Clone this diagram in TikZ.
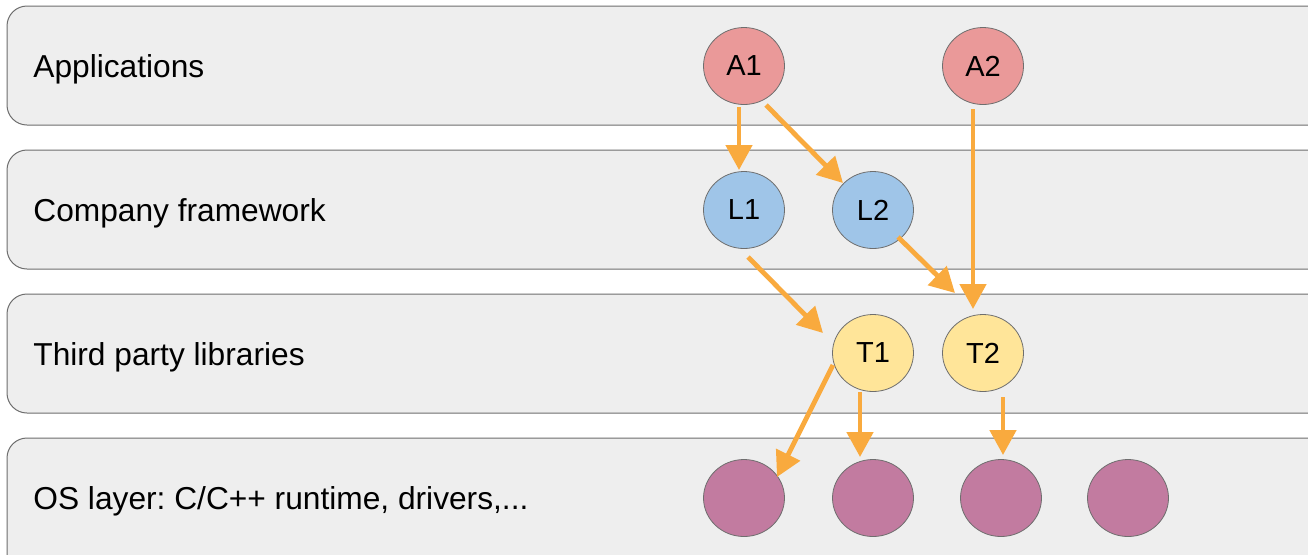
\documentclass[tikz,border=0pt]{standalone}
\usepackage{fontspec}
\setmainfont{Liberation Sans}
\usetikzlibrary{shapes.geometric,arrows.meta,calc}
\frenchspacing
\definecolor{boxfill}{HTML}{EEEEEE}
\definecolor{boxline}{HTML}{6E6E6E}
\definecolor{appc}{HTML}{EA9999}
\definecolor{libc}{HTML}{9FC5E8}
\definecolor{thirdc}{HTML}{FFE599}
\definecolor{osc}{HTML}{C27BA0}
\definecolor{arrc}{HTML}{F9AA3E}
\tikzset{
  layer/.style={draw=boxline, fill=boxfill, line width=0.5pt, rounded corners=10pt},
  layertext/.style={anchor=base west, inner sep=0pt, font=\fontsize{15.85}{19}\selectfont},
  comp/.style={ellipse, draw=boxline, line width=0.4pt, minimum width=40.5pt, minimum height=38.5pt, inner sep=0pt, font=\fontsize{14.5}{17}\selectfont},
  arr/.style={draw=arrc, line width=2.4pt, -{Triangle[width=13pt,length=12.5pt]}}
}
\begin{document}
\begin{tikzpicture}[x=0.5pt,y=-0.5pt]
\useasboundingbox (0,0) rectangle (1308,554);
\clip (0,0) rectangle (1308,554);
\fill[white] (0,0) rectangle (1308,554);
% layers
\draw[layer] (7,6) rectangle (1340,125);
\draw[layer] (7,150) rectangle (1340,269);
\draw[layer] (7,294) rectangle (1340,413);
\draw[layer] (7,438) rectangle (1340,580);
\node[layertext] (t1) at (33,77) {Applications};
\node[layertext] (t2) at (33,221) {Company framework};
\node[layertext] (t3) at (33,365) {Third party libraries};
\node[layertext] (t4) at (33,509) {OS layer: C/C++ runtime, drivers,...};
% components
\node[comp, fill=appc] (A1) at (744,66) {A1};
\node[comp, fill=appc] (A2) at (983,66) {A2};
\node[comp, fill=libc] (L1) at (744,210) {L1};
\node[comp, fill=libc] (L2) at (873,210) {L2};
\node[comp, fill=thirdc] (T1) at (873,353) {T1};
\node[comp, fill=thirdc] (T2) at (983,353) {T2};
\node[comp, fill=osc] (P1) at (744,498) {};
\node[comp, fill=osc] (P2) at (873,498) {};
\node[comp, fill=osc] (P3) at (1001,498) {};
\node[comp, fill=osc] (P4) at (1128,498) {};
% arrows
\draw[arr] ($(A1)+(-5,41)$) -- ($(L1)+(-5,-40)$);
\draw[arr] ($(A1)+(22,39)$) -- ($(L2)+(-30,-27)$);
\draw[arr] ($(A2)+(-10,43)$) -- ($(T2)+(-10,-44)$);
\draw[arr] ($(L2)+(25,27)$) -- ($(T2)+(-28,-60)$);
\draw[arr] ($(L1)+(4,47)$) -- ($(T1)+(-50,-20)$);
\draw[arr] ($(T1)+(-40,12)$) -- ($(P1)+(33,-21)$);
\draw[arr] ($(T1)+(-13,39)$) -- ($(P2)+(-13,-41)$);
\draw[arr] ($(T2)+(20,44)$) -- ($(P3)+(2,-43)$);
\end{tikzpicture}
\end{document}
